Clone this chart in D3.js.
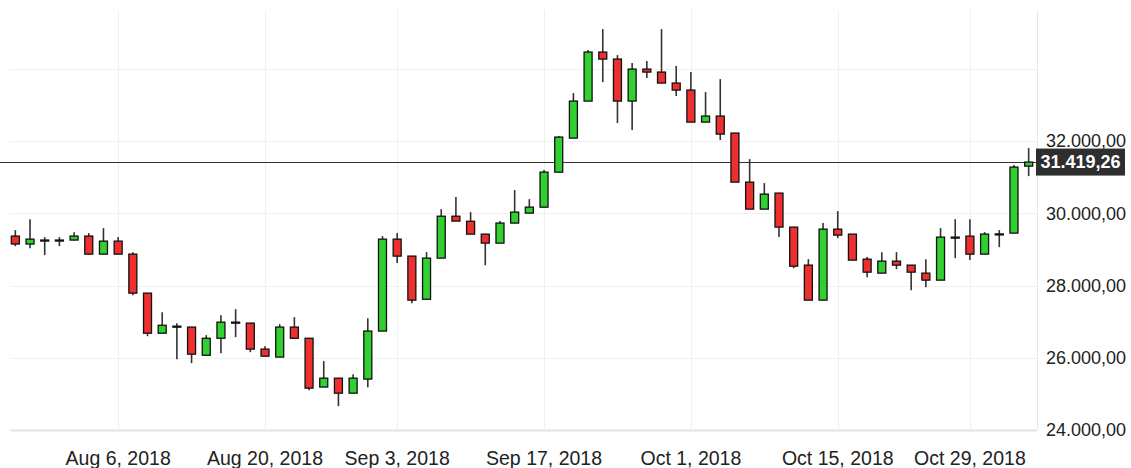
<!DOCTYPE html>
<html lang="en">
<head>
<meta charset="utf-8">
<title>Candlestick Chart</title>
<script type="text/javascript" src="https://d3js.org/d3.v7.min.js"></script>
<style type="text/css">
    body { margin: 0; background: #fff; }
    text { font-family: "Liberation Sans", Arial, sans-serif; }
</style>
</head>
<body>
<script type="text/javascript">

// Width and Height
var w = 1131;
var h = 468;

// Trading days
var dates = [
    "2018-07-26","2018-07-27","2018-07-30","2018-07-31",
    "2018-08-01","2018-08-02","2018-08-03","2018-08-06","2018-08-07","2018-08-08","2018-08-09","2018-08-10",
    "2018-08-13","2018-08-14","2018-08-15","2018-08-16","2018-08-17","2018-08-20","2018-08-21","2018-08-23",
    "2018-08-24","2018-08-27","2018-08-28","2018-08-29","2018-08-30","2018-08-31",
    "2018-09-03","2018-09-04","2018-09-05","2018-09-06","2018-09-07","2018-09-10","2018-09-11","2018-09-12",
    "2018-09-13","2018-09-14","2018-09-17","2018-09-18","2018-09-19","2018-09-20","2018-09-21","2018-09-24",
    "2018-09-25","2018-09-26","2018-09-27","2018-09-28",
    "2018-10-01","2018-10-02","2018-10-03","2018-10-04","2018-10-05","2018-10-08","2018-10-09","2018-10-10",
    "2018-10-11","2018-10-12","2018-10-15","2018-10-16","2018-10-18","2018-10-19","2018-10-22","2018-10-23",
    "2018-10-24","2018-10-25","2018-10-26","2018-10-29","2018-10-30","2018-10-31",
    "2018-11-01","2018-11-02"
];

var opens  = [29370,29150,29260,29260,29260,29370,28870,29230,28870,27790,26680,26875,26850,26070,26540,26986,
              26960,26240,26020,26850,26540,25190,25435,25020,25410,26740,29285,28815,27620,28760,29920,29780,
              29424,29175,29730,30006,30170,31140,32083,33108,34465,34271,33108,33994,33911,33607,33413,32526,
              32693,32222,30864,30116,30560,29618,28565,27596,29562,29424,28731,28344,28676,28565,28344,28150,
              29341,29368,28870,29424,29452,31307];
var closes = [29150,29285,29250,29250,29370,28870,29230,28870,27790,26680,26900,26870,26100,26540,26986,26980,
              26240,26044,26850,26540,25160,25435,25020,25435,26740,29285,28815,27596,28760,29920,29784,29424,
              29175,29730,30033,30172,31141,32111,33108,34465,34271,33108,33994,33911,33607,33413,32526,32693,
              32194,30864,30116,30532,29618,28537,27596,29562,29396,28704,28371,28676,28565,28371,28150,29341,
              29330,28870,29424,29430,31280,31419.26];
var highs  = [29535,29839,29341,29341,29479,29452,29590,29341,28925,27790,27263,26959,26848,26626,27180,27346,
              26959,26321,26931,27125,26543,25906,25435,25546,27097,29368,29452,28815,28925,30116,30449,30033,
              29424,29784,30643,30393,31197,32139,33330,34521,35102,34382,34161,34216,35102,34078,33911,33357,
              33717,32222,31501,30837,30560,29618,28731,29729,30061,29424,28787,28925,28925,28565,28731,29590,
              29839,29839,29479,29535,31335,31806];
var lows   = [29090,29036,28842,29091,29250,28860,28860,28860,27734,26598,26680,25961,25851,26070,26128,26571,
              26155,26044,26017,26543,25103,25186,24660,25020,25186,26737,28621,27513,27620,28759,29784,29424,
              28565,29175,29729,30006,30170,31140,32083,33108,33634,32499,32305,33745,33607,33247,32526,32526,
              32028,30864,30116,30116,29341,28482,27596,27596,29313,28704,28233,28344,28454,27873,27956,28150,
              28759,28704,28870,29064,29452,31030];

// Axis labels
var tickDates  = ["2018-08-06","2018-08-20","2018-09-03","2018-09-17","2018-10-01","2018-10-15","2018-10-29"];
var tickLabels = ["Aug 6, 2018","Aug 20, 2018","Sep 3, 2018","Sep 17, 2018","Oct 1, 2018","Oct 15, 2018","Oct 29, 2018"];
var gridValues  = [24000, 26000, 28000, 30000, 32000, 34000];
var labelValues = [24000, 26000, 28000, 30000, 32000];

var data = dates.map(function(d, i) {
    return { date: d, o: opens[i], h: highs[i], l: lows[i], c: closes[i] };
});
var last = closes[closes.length - 1];

// Plot area
var plotL = 8, plotR = 1036, plotT = 10, plotB = 430;

var x = d3.scaleBand()
    .domain(dates)
    .range([plotL, plotR]);

var y = d3.scaleLinear()
    .domain([24000, 35630])
    .range([plotB, plotT]);

var cx = function(d) { return x(d) + x.bandwidth() / 2; };

var locale = d3.formatLocale({ decimal: ",", thousands: ".", grouping: [3], currency: ["", ""] });
var fmt = locale.format(",.2f");

// SVG
var svg = d3.select("body")
    .append("svg")
    .attr("width", w)
    .attr("height", h);

// Grid
svg.append("g")
    .selectAll("line")
    .data(gridValues)
    .enter()
    .append("line")
    .attr("x1", 10)
    .attr("x2", plotR + 1)
    .attr("y1", function(d) { return Math.round(y(d)) + 0.5; })
    .attr("y2", function(d) { return Math.round(y(d)) + 0.5; })
    .attr("stroke", function(d) { return d === 24000 ? "#e4e4e4" : "#f0f0f0"; })
    .attr("stroke-width", function(d) { return d === 24000 ? 2 : 1; });

svg.append("g")
    .selectAll("line")
    .data(tickDates)
    .enter()
    .append("line")
    .attr("x1", function(d) { return Math.round(cx(d)) + 0.5; })
    .attr("x2", function(d) { return Math.round(cx(d)) + 0.5; })
    .attr("y1", plotT)
    .attr("y2", plotB)
    .attr("stroke", "#f0f0f0");

svg.append("line")
    .attr("x1", plotR + 1.5).attr("x2", plotR + 1.5)
    .attr("y1", plotT).attr("y2", plotB)
    .attr("stroke", "#e6e6ee");

// Current price line
svg.append("line")
    .attr("x1", 0)
    .attr("x2", plotR)
    .attr("y1", Math.round(y(last)) + 0.5)
    .attr("y2", Math.round(y(last)) + 0.5)
    .attr("stroke", "#333")
    .attr("stroke-width", 1.2);

// Candles
var bodyW = 8;
var candles = svg.selectAll("g.candle")
    .data(data)
    .enter()
    .append("g")
    .attr("class", "candle");

candles.append("line")
    .attr("x1", function(d) { return cx(d.date); })
    .attr("x2", function(d) { return cx(d.date); })
    .attr("y1", function(d) { return y(d.h); })
    .attr("y2", function(d) { return y(d.l); })
    .attr("stroke", "#333")
    .attr("stroke-width", 1.6);

candles.append("rect")
    .attr("x", function(d) { return cx(d.date) - bodyW / 2; })
    .attr("y", function(d) { return y(Math.max(d.o, d.c)); })
    .attr("width", bodyW)
    .attr("height", function(d) { return Math.max(1, Math.abs(y(d.o) - y(d.c))); })
    .attr("fill", function(d) { return d.c >= d.o ? "#2fd02f" : "#ee2f2f"; })
    .attr("stroke", "#111")
    .attr("stroke-width", 1.3);

// X axis
var xAxis = d3.axisBottom(x)
    .tickValues(tickDates)
    .tickSize(0)
    .tickPadding(21)
    .tickFormat(function(d) { return tickLabels[tickDates.indexOf(d)]; });

var gx = svg.append("g")
    .attr("transform", "translate(0," + plotB + ")")
    .call(xAxis);
gx.select(".domain").remove();
gx.selectAll("text")
    .attr("font-size", "19.5px")
    .attr("font-family", "'Liberation Sans', Arial, sans-serif")
    .attr("fill", "#222");

// Y axis
var yAxis = d3.axisRight(y)
    .tickValues(labelValues)
    .tickSize(0)
    .tickPadding(0)
    .tickFormat(fmt);

var gy = svg.append("g")
    .attr("transform", "translate(" + (plotR + 1) + ",0)")
    .call(yAxis);
gy.select(".domain").remove();
gy.selectAll("text")
    .attr("text-anchor", "end")
    .attr("x", 89)
    .attr("font-size", "18px")
    .attr("font-family", "'Liberation Sans', Arial, sans-serif")
    .attr("fill", "#222");

// Price label
var ly = y(last);
svg.append("rect")
    .attr("x", plotR)
    .attr("y", ly - 13.5)
    .attr("width", 89)
    .attr("height", 27)
    .attr("fill", "#2e2e2e");

svg.append("text")
    .attr("x", plotR + 44.5)
    .attr("y", ly)
    .attr("dy", ".35em")
    .attr("text-anchor", "middle")
    .attr("font-size", "18px")
    .attr("font-weight", "bold")
    .attr("fill", "#fff")
    .text(fmt(last));

</script>
</body>
</html>
